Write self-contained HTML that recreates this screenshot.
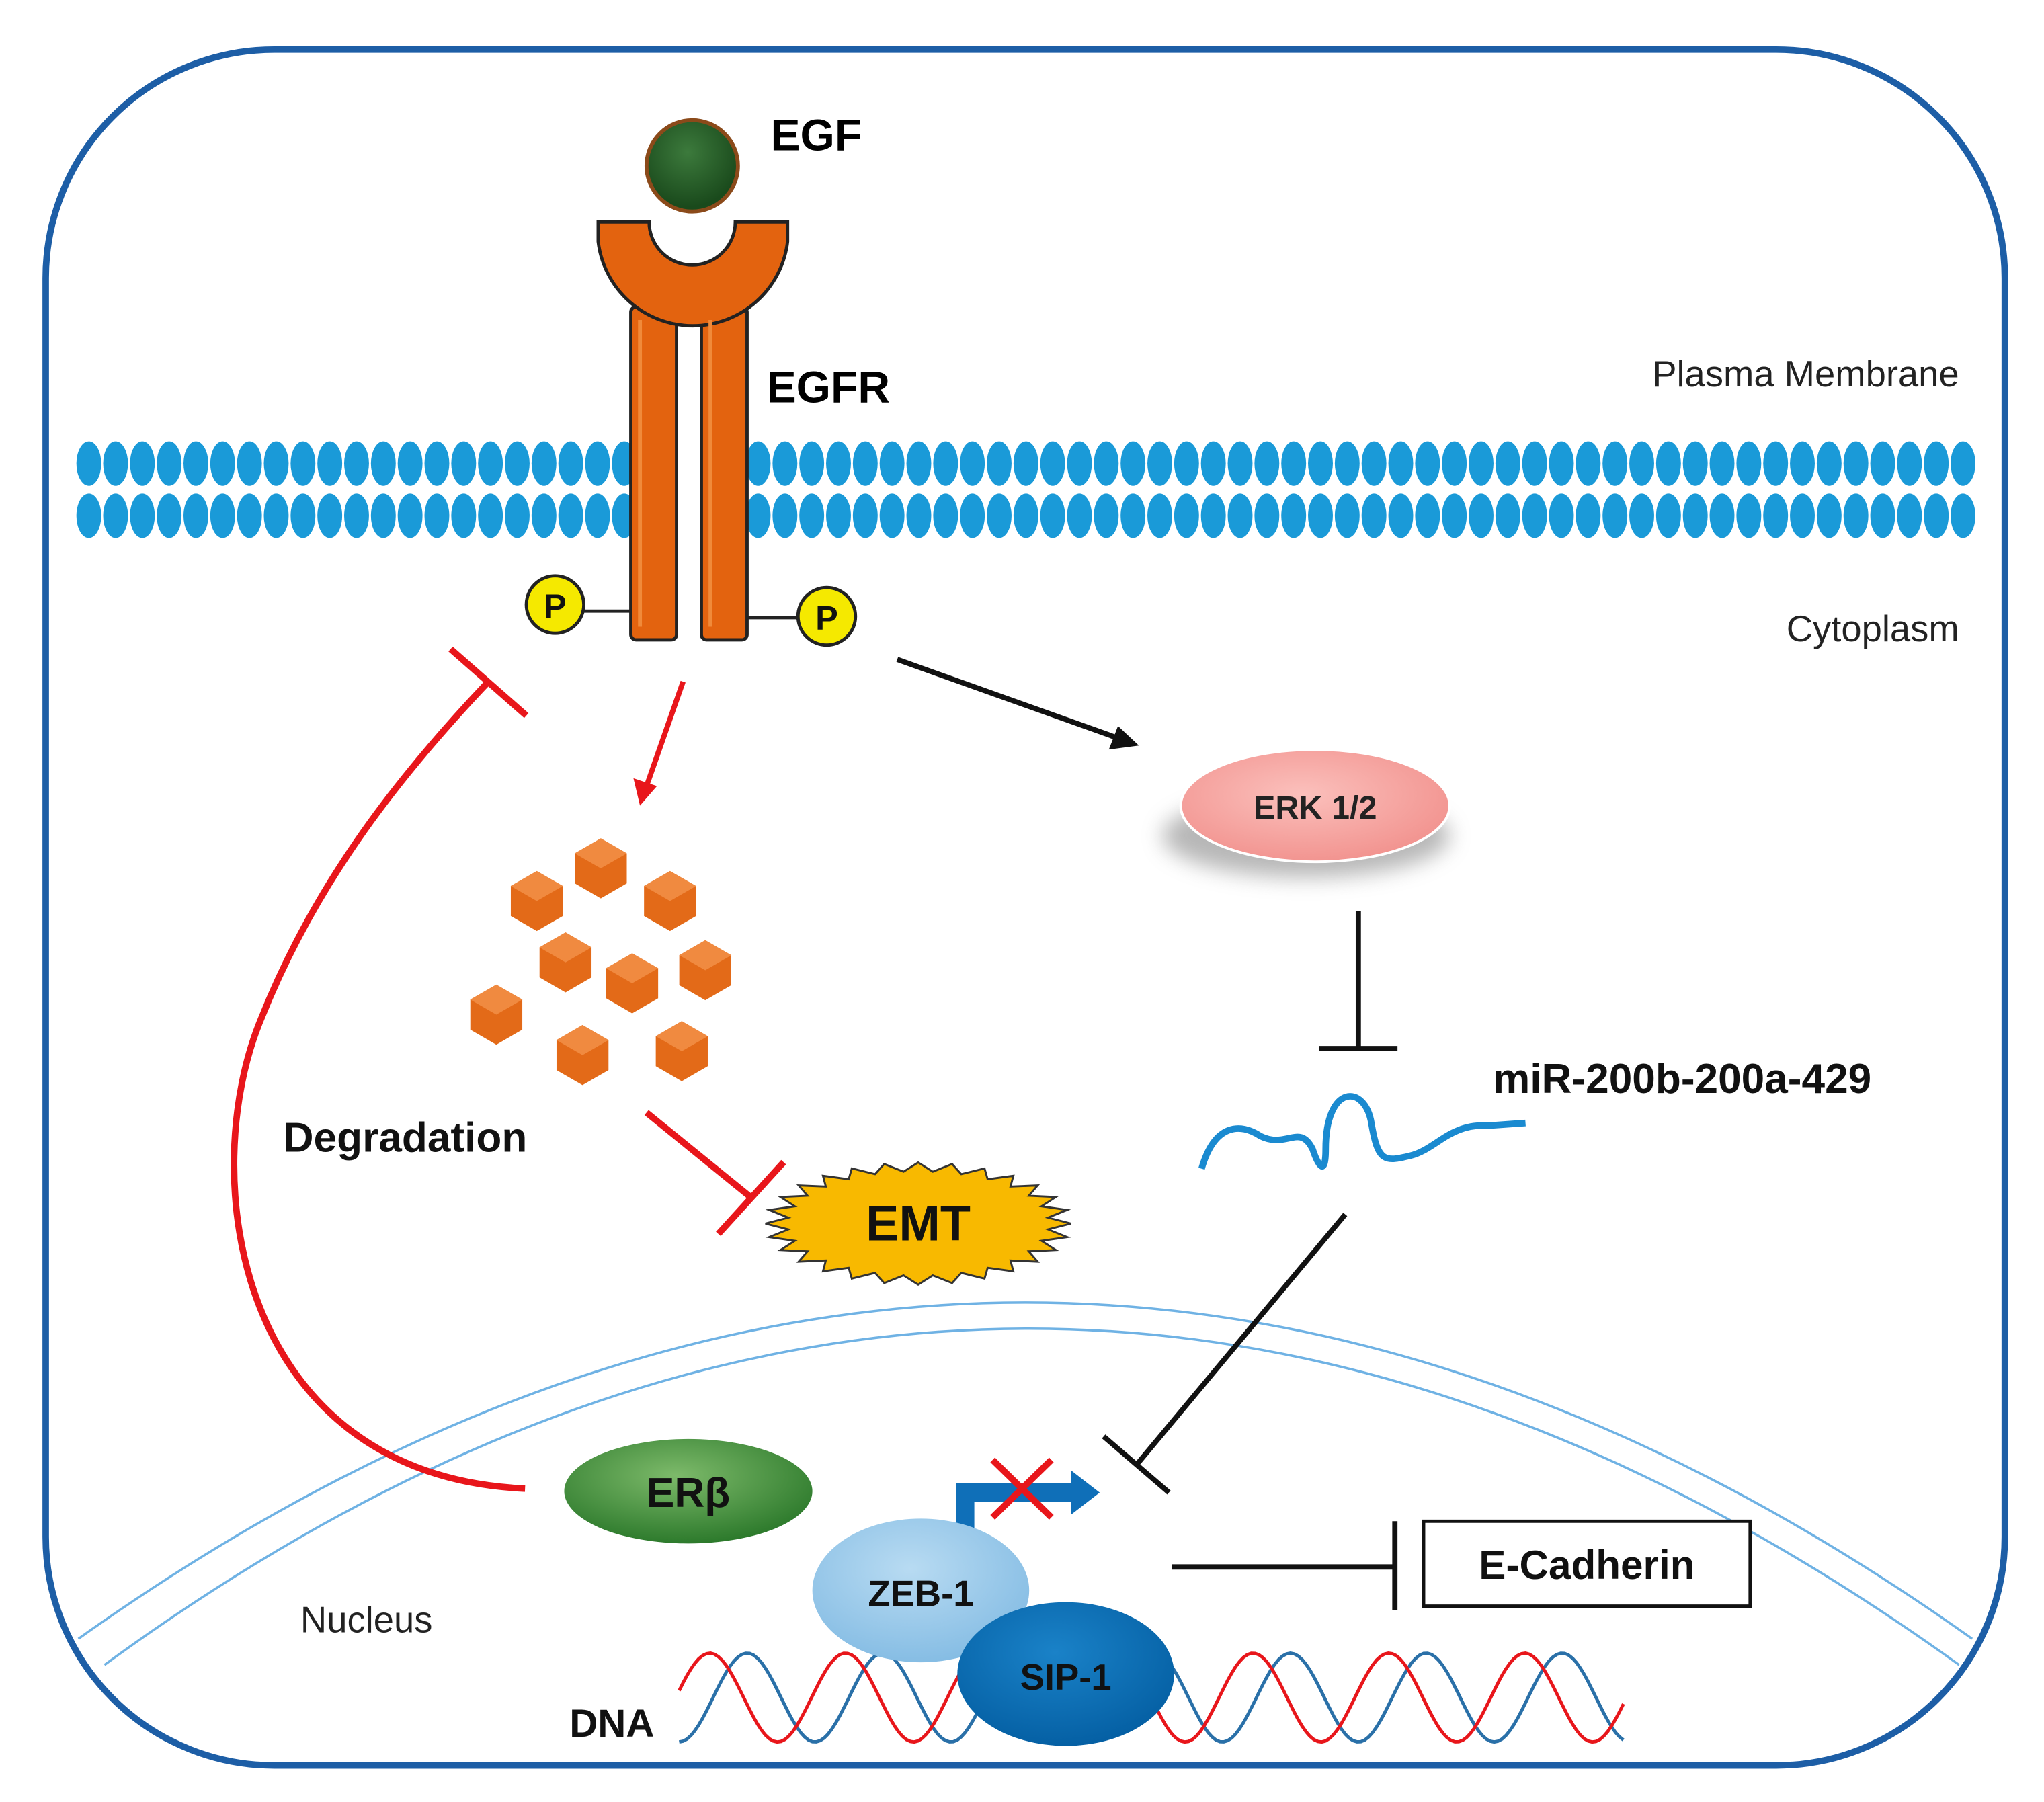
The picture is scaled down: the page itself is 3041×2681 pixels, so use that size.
<!DOCTYPE html>
<html><head><meta charset="utf-8"><style>
html,body{margin:0;padding:0;background:#fff}
svg{display:block}
text{font-family:"Liberation Sans",sans-serif}
</style></head><body>
<svg id="s" width="3041" height="2681" viewBox="0 0 1565 1380" preserveAspectRatio="none" xmlns="http://www.w3.org/2000/svg">
<defs>
<radialGradient id="erk" cx="0.45" cy="0.4" r="0.6"><stop offset="0" stop-color="#fbc0bc"/><stop offset="1" stop-color="#f29490"/></radialGradient>
<radialGradient id="erb" cx="0.45" cy="0.35" r="0.65"><stop offset="0" stop-color="#7dba6a"/><stop offset="1" stop-color="#2d7a2c"/></radialGradient>
<radialGradient id="zeb" cx="0.45" cy="0.35" r="0.65"><stop offset="0" stop-color="#b8dbf2"/><stop offset="1" stop-color="#86bde4"/></radialGradient>
<radialGradient id="sip" cx="0.45" cy="0.35" r="0.65"><stop offset="0" stop-color="#1a82c8"/><stop offset="1" stop-color="#0560a4"/></radialGradient>
<radialGradient id="egf" cx="0.45" cy="0.35" r="0.6"><stop offset="0" stop-color="#3c7a3c"/><stop offset="1" stop-color="#1a4a1c"/></radialGradient>
<filter id="sh" x="-30%" y="-30%" width="160%" height="190%"><feGaussianBlur stdDeviation="8"/></filter>
<clipPath id="cell"><rect x="35" y="38" width="1500" height="1314" rx="175" ry="175"/></clipPath>
</defs>
<!-- nucleus arcs -->
<g clip-path="url(#cell)" fill="none" stroke="#6fb2e4" stroke-width="1.8">
<path d="M60,1255 Q785,740 1510,1255"/>
<path d="M80,1275 Q785,760 1500,1275"/>
</g>
<rect x="35" y="38" width="1500" height="1314" rx="175" ry="175" fill="none" stroke="#1d5ea6" stroke-width="5"/>
<g id="mem"></g>
<!-- EGFR -->
<g stroke="#222" stroke-width="2.5" fill="#e3630f">
<rect x="483" y="235" width="35" height="255" rx="4"/>
<rect x="537" y="235" width="35" height="255" rx="4"/>
<path d="M458,170 L497,170 A33,33 0 0 0 563,170 L603,170 L603,185 A73,73 0 0 1 458,185 Z"/>
</g>
<g fill="none" stroke="#f08a3a" stroke-width="3"><path d="M490,245 L490,480"/><path d="M544,245 L544,480"/></g>
<circle cx="530" cy="127" r="35" fill="url(#egf)" stroke="#8b4a1a" stroke-width="3"/>
<!-- P -->
<g stroke="#222" stroke-width="2.5">
<line x1="447" y1="468" x2="483" y2="468"/><line x1="572" y1="473" x2="612" y2="473"/>
<circle cx="425" cy="463" r="22" fill="#f5e900"/><circle cx="633" cy="472" r="22" fill="#f5e900"/>
</g>
<g font-weight="bold" font-size="26" text-anchor="middle" fill="#111"><text x="425" y="473">P</text><text x="633" y="482">P</text></g>
<text x="590" y="115" font-size="34" font-weight="bold">EGF</text>
<text x="587" y="308" font-size="34" font-weight="bold">EGFR</text>
<text x="1500" y="296" font-size="28" text-anchor="end" fill="#222">Plasma Membrane</text>
<text x="1500" y="491" font-size="28" text-anchor="end" fill="#222">Cytoplasm</text>
<!-- arrows -->
<line x1="687" y1="505" x2="858" y2="566" stroke="#111" stroke-width="4"/>
<polygon points="872,571 849,574 856,556" fill="#111"/>
<line x1="523" y1="522" x2="495" y2="602" stroke="#e8161b" stroke-width="4"/>
<polygon points="490,617 485,596 503,602" fill="#e8161b"/>
<!-- ERK -->
<ellipse cx="1000" cy="640" rx="110" ry="32" fill="#999" filter="url(#sh)" opacity="0.7"/>
<ellipse cx="1007" cy="617" rx="103" ry="43" fill="url(#erk)" stroke="#fff" stroke-width="2"/>
<text x="1007" y="627" font-size="25" font-weight="bold" text-anchor="middle" fill="#222">ERK 1/2</text>
<g stroke="#111" stroke-width="4"><line x1="1040" y1="698" x2="1040" y2="803"/><line x1="1010" y1="803" x2="1070" y2="803"/></g>
<path d="M920,895 C930,860 950,860 965,870 C985,880 995,860 1005,880 C1010,895 1015,900 1015,880 C1015,830 1045,830 1050,860 C1055,890 1060,890 1080,885 C1100,880 1110,860 1140,862 L1168,860" fill="none" stroke="#1a8ad0" stroke-width="5"/>
<text x="1143" y="837" font-size="32" font-weight="bold" fill="#111">miR-200b-200a-429</text>
<g stroke="#111" stroke-width="4"><line x1="1030" y1="930" x2="870" y2="1122"/><line x1="845" y1="1100" x2="895" y2="1143"/></g>
<!-- hexagons -->
<g id="hex"></g>
<text x="217" y="882" font-size="32" font-weight="bold" fill="#111">Degradation</text>
<g stroke="#e8161b" stroke-width="5"><line x1="495" y1="852" x2="575" y2="917"/><line x1="550" y1="945" x2="600" y2="890"/></g>
<polygon id="emt" fill="#f8b900" stroke="#333" stroke-width="1.5"/>
<text x="703" y="950" font-size="38" font-weight="bold" text-anchor="middle" fill="#111">EMT</text>
<!-- red feedback -->
<path d="M402,1140 C180,1130 150,900 200,780 C240,680 300,600 374,522" fill="none" stroke="#e8161b" stroke-width="5"/>
<line x1="345" y1="497" x2="403" y2="548" stroke="#e8161b" stroke-width="5"/>
<ellipse cx="527" cy="1142" rx="95" ry="40" fill="url(#erb)"/>
<text x="527" y="1154" font-size="32" font-weight="bold" text-anchor="middle" fill="#111">ERβ</text>
<!-- DNA -->
<g id="dna" fill="none" stroke-width="2.5"></g>
<!-- bent arrow -->
<path d="M732,1195 L732,1136 L820,1136 L820,1126 L842,1143 L820,1160 L820,1150 L746,1150 L746,1195 Z" fill="#0f6fb8"/>
<g stroke="#e8161b" stroke-width="5"><line x1="760" y1="1118" x2="805" y2="1162"/><line x1="805" y1="1118" x2="760" y2="1162"/></g>
<ellipse cx="705" cy="1218" rx="83" ry="55" fill="url(#zeb)"/>
<text x="705" y="1230" font-size="28" font-weight="bold" text-anchor="middle" fill="#111">ZEB-1</text>
<ellipse cx="816" cy="1282" rx="83" ry="55" fill="url(#sip)"/>
<text x="816" y="1294" font-size="28" font-weight="bold" text-anchor="middle" fill="#111">SIP-1</text>
<g stroke="#111" stroke-width="4"><line x1="897" y1="1200" x2="1068" y2="1200"/><line x1="1068" y1="1165" x2="1068" y2="1233"/></g>
<rect x="1090" y="1165" width="250" height="65" fill="#fff" stroke="#111" stroke-width="2.5"/>
<text x="1215" y="1209" font-size="31" font-weight="bold" text-anchor="middle" fill="#111">E-Cadherin</text>
<text x="230" y="1250" font-size="28" fill="#222">Nucleus</text>
<text x="436" y="1330" font-size="30" font-weight="bold" fill="#111">DNA</text>
</svg>
<script>
var NS="http://www.w3.org/2000/svg";
function el(t,a,p){var e=document.createElementNS(NS,t);for(var k in a)e.setAttribute(k,a[k]);p.appendChild(e);return e;}
var mem=document.getElementById('mem');
for(var x=68;x<=1510;x+=20.5){
 if(x>478&&x<578)continue;
 el('ellipse',{cx:x,cy:355,rx:9.5,ry:17,fill:'#1a9ad8'},mem);
 el('ellipse',{cx:x,cy:395,rx:9.5,ry:17,fill:'#1a9ad8'},mem);
}
var hx=document.getElementById('hex');
[[460,665],[411,690],[513,690],[433,737],[484,753],[540,743],[380,777],[446,808],[522,805]].forEach(function(c){
 var r=23,p=[];for(var i=0;i<6;i++){var a=Math.PI/3*i+Math.PI/6;p.push((c[0]+r*Math.cos(a)).toFixed(1)+','+(c[1]+r*Math.sin(a)).toFixed(1));}
 el('polygon',{points:p.join(' '),fill:'#e36a18'},hx);
 el('polygon',{points:[c[0]+','+(c[1]-r),(c[0]+r*0.87)+','+(c[1]-r/2),c[0]+','+c[1],(c[0]-r*0.87)+','+(c[1]-r/2)].join(' '),fill:'#f08a40'},hx);
});
var pts=[];var n=56;for(var i=0;i<n;i++){var a=Math.PI*2*i/n;var rr=(i%2?100:117);pts.push((703+rr*Math.cos(a)).toFixed(1)+','+(937+rr*0.4*Math.sin(a)).toFixed(1));}
document.getElementById('emt').setAttribute('points',pts.join(' '));
var dna=document.getElementById('dna');
function wave(ph,col){var d='';for(var x=520;x<=1245;x+=3){var y=1300+34*Math.sin((x-520)/104*2*Math.PI+ph);d+=(d?'L':'M')+x+','+y.toFixed(1);}el('path',{d:d,stroke:col},dna);}
wave(Math.PI*0.5,'#2a70a8');wave(Math.PI*1.05,'#e8161b');
</script>
</body></html>
